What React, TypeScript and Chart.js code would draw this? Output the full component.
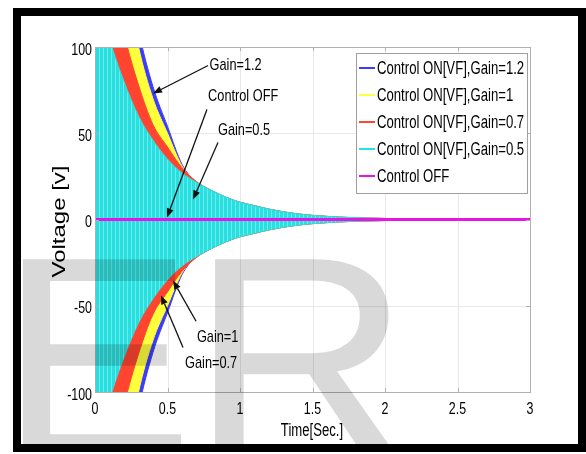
import React, { useEffect, useRef } from "react";
import { Chart, registerables } from "chart.js";

Chart.register(...registerables);

// ---- data ----
const TIME = [0, 0.1, 0.2, 0.3, 0.4, 0.5, 0.6, 0.7, 0.8, 0.9, 1.0, 1.1, 1.2, 1.4, 1.6, 1.8, 2.0, 2.2, 2.5, 3.0];
// amplitude envelopes of the oscillating voltage [V]
const ENV_GAIN_12 = [330, 230, 160, 110, 77, 54, 32, 21.5, 17, 13, 10, 8, 6, 3.2, 1.8, 1.0, 0.6, 0.3, 0.15, 0.05];
const ENV_GAIN_1 = [300, 210, 145, 100, 70, 50, 31, 21.5, 17, 13, 10, 8, 6, 3.2, 1.8, 1.0, 0.6, 0.3, 0.15, 0.05];
const ENV_GAIN_07 = [200, 150, 108, 78, 55, 42, 30, 22, 17, 13, 10, 8, 6, 3.2, 1.8, 1.0, 0.6, 0.3, 0.15, 0.05];
const ENV_GAIN_05 = [140, 105, 80, 60, 46, 35, 27, 21.5, 17, 13, 10, 8, 6, 3.2, 1.8, 1.0, 0.6, 0.3, 0.15, 0.05];
const CONTROL_OFF = [0, 0, 0, 0, 0, 0, 0, 0, 0, 0, 0, 0, 0, 0, 0, 0, 0, 0, 0, 0];

const SERIES_LABELS = [
  "Control ON[VF],Gain=1.2",
  "Control ON[VF],Gain=1",
  "Control ON[VF],Gain=0.7",
  "Control ON[VF],Gain=0.5",
  "Control OFF",
];
const SERIES_COLORS = ["#3c3cff", "#ffff3c", "#ff4530", "#28e2e2", "#e614e6"];

const X_TICKS = [0, 0.5, 1, 1.5, 2, 2.5, 3];
const X_TICK_LABELS = ["0", "0.5", "1", "1.5", "2", "2.5", "3"];
const Y_TICKS = [100, 50, 0, -50, -100];
const Y_TICK_LABELS = ["100", "50", "0", "-50", "-100"];

const X_TITLE = "Time[Sec.]";
const Y_TITLE = "Voltage [v]";
const WATERMARK = ["E", "R"];

// annotation texts with label anchor and arrow (data coordinates)
const ANNOTATIONS = [
  { text: "Gain=1.2", at: [0.79, 89.3], from: [0.78, 89.3], to: [0.4, 73] },
  { text: "Control OFF", at: [0.78, 71.3], from: [0.772, 63.8], to: [0.497, 1.2] },
  { text: "Gain=0.5", at: [0.848, 51.6], from: [0.848, 44.6], to: [0.676, 11.6] },
  { text: "Gain=1", at: [0.703, -68.4], from: [0.697, -59], to: [0.538, -35.4] },
  { text: "Gain=0.7", at: [0.621, -83.5], from: [0.607, -74.2], to: [0.455, -44] },
];

const FONT = '"Liberation Sans", Arial, "Noto Sans", sans-serif';
const SX = 0.73;

function txt(ctx: CanvasRenderingContext2D, s: string, x: number, y: number, size: number, align: CanvasTextAlign, sx = SX) {
  ctx.save();
  ctx.translate(x, y);
  ctx.scale(sx, 1);
  ctx.font = `${size}px ${FONT}`;
  ctx.textAlign = align;
  ctx.textBaseline = "middle";
  ctx.fillStyle = "#000";
  ctx.fillText(s, 0, 0);
  ctx.restore();
}

function makePattern(): CanvasPattern | string {
  const pc = document.createElement("canvas");
  pc.width = 4;
  pc.height = 4;
  const g = pc.getContext("2d");
  if (!g) return "#28e2e2";
  g.fillStyle = "#28e0e0";
  g.fillRect(0, 0, 4, 4);
  g.fillStyle = "#6aeaea";
  g.fillRect(3, 0, 1, 4);
  return g.createPattern(pc, "repeat") || "#28e2e2";
}

const deco = {
  id: "deco",
  beforeDraw(chart: any) {
    const { ctx, chartArea: a, scales } = chart;
    ctx.save();
    ctx.fillStyle = "#fff";
    ctx.fillRect(0, 0, chart.width, chart.height);
    ctx.strokeStyle = "#e8e8e8";
    ctx.lineWidth = 1;
    for (const t of X_TICKS) {
      const x = Math.round(scales.x.getPixelForValue(t)) + 0.5;
      ctx.beginPath();
      ctx.moveTo(x, a.top);
      ctx.lineTo(x, a.bottom);
      ctx.stroke();
    }
    for (const v of Y_TICKS) {
      const y = Math.round(scales.y.getPixelForValue(v)) + 0.5;
      ctx.beginPath();
      ctx.moveTo(a.left, y);
      ctx.lineTo(a.right, y);
      ctx.stroke();
    }
    ctx.restore();
  },
  afterDraw(chart: any) {
    const { ctx, chartArea: a, scales } = chart;
    const px = (t: number) => scales.x.getPixelForValue(t);
    const py = (v: number) => scales.y.getPixelForValue(v);
    ctx.save();
    // axes box
    ctx.strokeStyle = "#b0b0b0";
    ctx.lineWidth = 1;
    ctx.strokeRect(Math.round(a.left) + 0.5, Math.round(a.top) + 0.5, Math.round(a.right - a.left), Math.round(a.bottom - a.top));
    // tick marks
    ctx.beginPath();
    for (const t of X_TICKS) {
      const x = Math.round(px(t)) + 0.5;
      ctx.moveTo(x, a.bottom);
      ctx.lineTo(x, a.bottom - 4);
      ctx.moveTo(x, a.top);
      ctx.lineTo(x, a.top + 4);
    }
    for (const v of Y_TICKS) {
      const y = Math.round(py(v)) + 0.5;
      ctx.moveTo(a.left, y);
      ctx.lineTo(a.left + 4, y);
      ctx.moveTo(a.right, y);
      ctx.lineTo(a.right - 4, y);
    }
    ctx.stroke();

    // tick labels
    X_TICKS.forEach((t, i) => txt(ctx, X_TICK_LABELS[i], px(t), a.bottom + 17, 17, "center"));
    Y_TICKS.forEach((v, i) => txt(ctx, Y_TICK_LABELS[i], a.left - 3, py(v) + 3, 17, "right"));

    // axis titles
    txt(ctx, X_TITLE, (a.left + a.right) / 2 - 0.5, a.bottom + 39, 18, "center");
    ctx.save();
    ctx.translate(a.left - 35, (a.top + a.bottom) / 2 + 2);
    ctx.rotate(-Math.PI / 2);
    ctx.scale(1, 0.75);
    ctx.font = `24px ${FONT}`;
    ctx.textAlign = "center";
    ctx.textBaseline = "middle";
    ctx.fillStyle = "#000";
    ctx.fillText(Y_TITLE, 0, 0);
    ctx.restore();

    // legend
    const lw = 171, lh = 140;
    const lx = a.right - 3 - lw, ly = a.top + 6;
    ctx.fillStyle = "#fff";
    ctx.fillRect(lx, ly, lw, lh);
    ctx.strokeStyle = "#a0a0a0";
    ctx.strokeRect(Math.round(lx) + 0.5, Math.round(ly) + 0.5, lw, lh);
    SERIES_LABELS.forEach((lab, i) => {
      const y = ly + 15 + i * 27;
      ctx.strokeStyle = SERIES_COLORS[i];
      ctx.lineWidth = 2;
      ctx.beginPath();
      ctx.moveTo(lx + 3, y);
      ctx.lineTo(lx + 19, y);
      ctx.stroke();
      txt(ctx, lab, lx + 21, y + 1, 18, "left");
    });

    // annotations
    ctx.strokeStyle = "#111";
    ctx.fillStyle = "#111";
    ctx.lineWidth = 1.3;
    for (const an of ANNOTATIONS) {
      txt(ctx, an.text, px(an.at[0]), py(an.at[1]), 17, "left", 0.75);
      const x1 = px(an.from[0]), y1 = py(an.from[1]);
      const x2 = px(an.to[0]), y2 = py(an.to[1]);
      const ang = Math.atan2(y2 - y1, x2 - x1);
      const L = 9, W = 3.5;
      const bx = x2 - L * Math.cos(ang), by = y2 - L * Math.sin(ang);
      ctx.beginPath();
      ctx.moveTo(x1, y1);
      ctx.lineTo(bx, by);
      ctx.stroke();
      ctx.beginPath();
      ctx.moveTo(x2, y2);
      ctx.lineTo(bx + W * Math.sin(ang), by - W * Math.cos(ang));
      ctx.lineTo(bx - W * Math.sin(ang), by + W * Math.cos(ang));
      ctx.closePath();
      ctx.fill();
    }

    // watermark
    ctx.save();
    ctx.beginPath();
    ctx.rect(21, 16, 557, 428);
    ctx.clip();
    ctx.font = `286px ${FONT}`;
    ctx.textAlign = "left";
    ctx.textBaseline = "alphabetic";
    ctx.fillStyle = "rgba(0,0,0,0.15)";
    ctx.save();
    ctx.translate(-1, 456);
    ctx.scale(1.02, 1);
    ctx.fillText(WATERMARK[0], 0, 0);
    ctx.restore();
    ctx.save();
    ctx.translate(190, 456);
    ctx.scale(1.07, 1);
    ctx.fillText(WATERMARK[1], 0, 0);
    ctx.restore();
    ctx.restore();

    // black frame
    ctx.fillStyle = "#000";
    ctx.fillRect(13, 8, 8, 444);
    ctx.fillRect(13, 8, 573, 8);
    ctx.fillRect(578, 8, 8, 444);
    ctx.fillRect(13, 444, 573, 8);
    ctx.restore();
  },
};

export default function App() {
  const ref = useRef<HTMLCanvasElement | null>(null);
  useEffect(() => {
    const canvas = ref.current;
    if (!canvas) return;
    const cyanFill = makePattern();
    const envs = [ENV_GAIN_12, ENV_GAIN_1, ENV_GAIN_07, ENV_GAIN_05];
    const fills: any[] = [SERIES_COLORS[0], SERIES_COLORS[1], SERIES_COLORS[2], cyanFill];
    const datasets: any[] = [];
    envs.forEach((env, i) => {
      const order = 4 - i;
      datasets.push({
        label: SERIES_LABELS[i],
        data: TIME.map((t, k) => ({ x: t, y: env[k] })),
        borderColor: SERIES_COLORS[i],
        borderWidth: 1,
        backgroundColor: fills[i],
        fill: "+1",
        pointRadius: 0,
        cubicInterpolationMode: "monotone",
        order,
      });
      datasets.push({
        label: SERIES_LABELS[i] + " (lower)",
        data: TIME.map((t, k) => ({ x: t, y: -env[k] })),
        borderColor: SERIES_COLORS[i],
        borderWidth: 1,
        backgroundColor: fills[i],
        fill: false,
        pointRadius: 0,
        cubicInterpolationMode: "monotone",
        order,
      });
    });
    datasets.push({
      label: SERIES_LABELS[4],
      data: TIME.map((t, k) => ({ x: t, y: CONTROL_OFF[k] })),
      borderColor: SERIES_COLORS[4],
      borderWidth: 3,
      fill: false,
      pointRadius: 0,
      order: 0,
    });
    const chart = new Chart(canvas, {
      type: "line",
      data: { datasets },
      options: {
        responsive: false,
        animation: false,
        devicePixelRatio: 1,
        layout: { padding: { left: 95, top: 47, right: 56, bottom: 62 } },
        scales: {
          x: { type: "linear", min: 0, max: 3, display: false },
          y: { type: "linear", min: -100, max: 100, display: false },
        },
        plugins: { legend: { display: false }, tooltip: { enabled: false } },
        elements: { point: { radius: 0 } },
      },
      plugins: [deco],
    } as any);
    return () => chart.destroy();
  }, []);
  return (
    <div style={{ position: "fixed", left: 0, top: 0, width: 586, height: 454 }}>
      <canvas ref={ref} width={586} height={454} style={{ display: "block" }} />
    </div>
  );
}
